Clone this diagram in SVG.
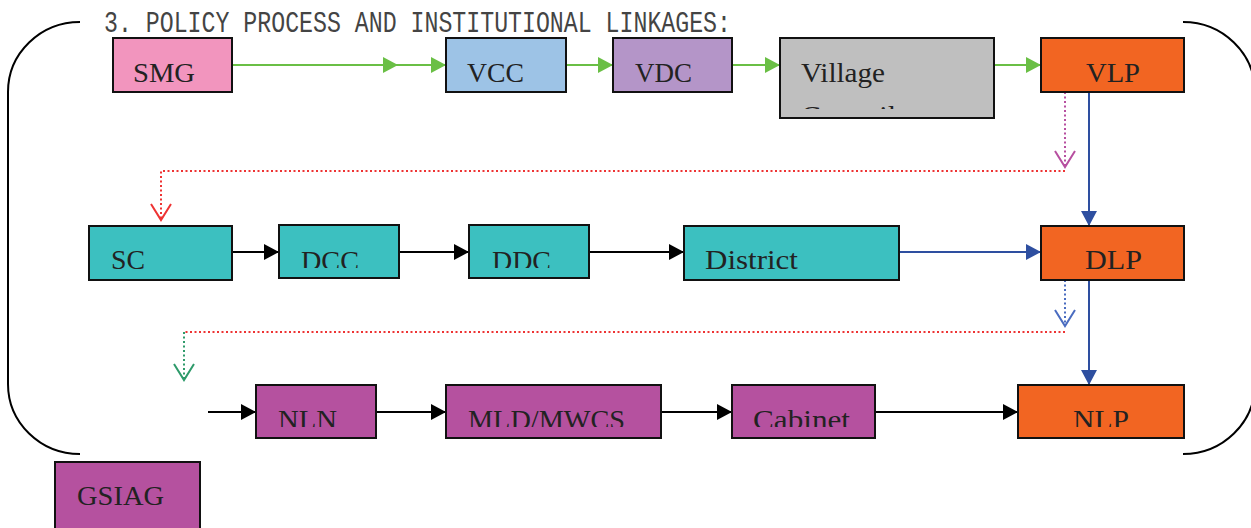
<svg xmlns="http://www.w3.org/2000/svg" width="1251" height="528" viewBox="0 0 1251 528">
  <style>
    .box { stroke: #111; stroke-width: 2; }
    .lbl { font-family: "Liberation Serif", "DejaVu Serif", serif; font-size: 28px; fill: #222; }
    .title { font-family: "Liberation Mono", "DejaVu Sans Mono", monospace; font-size: 29px; fill: #444; }
    .brace { fill: none; stroke: #000; stroke-width: 2; }
    .green { stroke: #6abf45; stroke-width: 2; fill: none; }
    .black { stroke: #000; stroke-width: 2; fill: none; }
    .blue { stroke: #2e4fa0; stroke-width: 2; fill: none; }
    .dot { stroke-width: 2; fill: none; stroke-dasharray: 2 2.5; }
  </style>
  <defs>
    <marker id="ahGreen" markerUnits="userSpaceOnUse" markerWidth="16" markerHeight="16" refX="15" refY="8" orient="auto">
      <path d="M0,0 L15,8 L0,16 z" fill="#6abf45"/>
    </marker>
    <marker id="ahBlack" markerUnits="userSpaceOnUse" markerWidth="16" markerHeight="16" refX="15" refY="8" orient="auto">
      <path d="M0,0 L15,8 L0,16 z" fill="#000"/>
    </marker>
    <marker id="ahBlue" markerUnits="userSpaceOnUse" markerWidth="16" markerHeight="16" refX="15" refY="8" orient="auto">
      <path d="M0,0 L15,8 L0,16 z" fill="#2e4fa0"/>
    </marker>
    <marker id="vMagenta" markerUnits="userSpaceOnUse" markerWidth="20" markerHeight="24" refX="17" refY="11" orient="auto">
      <path d="M1,1 L17,11 L1,21" fill="none" stroke="#b74fa0" stroke-width="2"/>
    </marker>
    <marker id="vRed" markerUnits="userSpaceOnUse" markerWidth="20" markerHeight="24" refX="17" refY="11" orient="auto">
      <path d="M1,1 L17,11 L1,21" fill="none" stroke="#ee3333" stroke-width="2"/>
    </marker>
    <marker id="vBlue" markerUnits="userSpaceOnUse" markerWidth="20" markerHeight="24" refX="17" refY="11" orient="auto">
      <path d="M1,1 L17,11 L1,21" fill="none" stroke="#4a6cc0" stroke-width="2"/>
    </marker>
    <marker id="vGreen" markerUnits="userSpaceOnUse" markerWidth="20" markerHeight="24" refX="17" refY="11" orient="auto">
      <path d="M1,1 L17,11 L1,21" fill="none" stroke="#2e9a6a" stroke-width="2"/>
    </marker>
    <clipPath id="clipVillage"><rect x="780" y="38" width="214" height="71"/></clipPath>
    <clipPath id="clipRow2"><rect x="0" y="200" width="1251" height="68"/></clipPath>
    <clipPath id="clipRow3"><rect x="0" y="360" width="1251" height="67"/></clipPath>
  </defs>

  <rect width="1251" height="528" fill="#fff"/>

  <!-- heading -->
  <text class="title" x="104" y="32" textLength="627" lengthAdjust="spacingAndGlyphs">3. POLICY PROCESS AND INSTITUTIONAL LINKAGES:</text>

  <!-- enclosing braces -->
  <path class="brace" d="M80,22 A72,70 0 0 0 8,92 L8,384 A72,70 0 0 0 80,454"/>
  <path class="brace" d="M1183,22 A72,70 0 0 1 1255,92 L1255,384 A72,70 0 0 1 1183,454"/>

  <!-- connectors -->
  <g id="connectors">
    <line class="green" x1="232" y1="65" x2="398" y2="65" marker-end="url(#ahGreen)"/>
    <line class="green" x1="398" y1="65" x2="446" y2="65" marker-end="url(#ahGreen)"/>
    <line class="green" x1="566" y1="65" x2="613" y2="65" marker-end="url(#ahGreen)"/>
    <line class="green" x1="732" y1="65" x2="780" y2="65" marker-end="url(#ahGreen)"/>
    <line class="green" x1="994" y1="65" x2="1041" y2="65" marker-end="url(#ahGreen)"/>

    <line class="blue" x1="1089" y1="92" x2="1089" y2="226" marker-end="url(#ahBlue)"/>
    <line class="dot" stroke="#b74fa0" x1="1065" y1="92" x2="1065" y2="167" marker-end="url(#vMagenta)"/>
    <path class="dot" stroke="#ee3333" d="M1065,171 H161 V220" marker-end="url(#vRed)"/>

    <line class="black" x1="232" y1="252" x2="279" y2="252" marker-end="url(#ahBlack)"/>
    <line class="black" x1="399" y1="252" x2="469" y2="252" marker-end="url(#ahBlack)"/>
    <line class="black" x1="589" y1="252" x2="684" y2="252" marker-end="url(#ahBlack)"/>
    <line class="blue" x1="899" y1="252" x2="1041" y2="252" marker-end="url(#ahBlue)"/>

    <line class="blue" x1="1089" y1="280" x2="1089" y2="385" marker-end="url(#ahBlue)"/>
    <line class="dot" stroke="#4a6cc0" x1="1065" y1="280" x2="1065" y2="326" marker-end="url(#vBlue)"/>
    <path class="dot" stroke="#ee3333" d="M1065,332 H184"/>
    <line class="dot" stroke="#2e9a6a" x1="184" y1="332" x2="184" y2="380" marker-end="url(#vGreen)"/>

    <line class="black" x1="208" y1="412" x2="256" y2="412" marker-end="url(#ahBlack)"/>
    <line class="black" x1="376" y1="412" x2="446" y2="412" marker-end="url(#ahBlack)"/>
    <line class="black" x1="661" y1="412" x2="732" y2="412" marker-end="url(#ahBlack)"/>
    <line class="black" x1="875" y1="412" x2="1018" y2="412" marker-end="url(#ahBlack)"/>
  </g>

  <!-- village level -->
  <g id="smg">
    <rect class="box" x="113" y="38" width="119" height="54" fill="#f295be"/>
    <text class="lbl" x="133" y="82" textLength="62" lengthAdjust="spacingAndGlyphs">SMG</text>
  </g>
  <g id="vcc">
    <rect class="box" x="446" y="38" width="120" height="54" fill="#9dc3e6"/>
    <text class="lbl" x="467" y="82" textLength="57" lengthAdjust="spacingAndGlyphs">VCC</text>
  </g>
  <g id="vdc">
    <rect class="box" x="613" y="38" width="119" height="54" fill="#b495c8"/>
    <text class="lbl" x="635" y="82" textLength="57" lengthAdjust="spacingAndGlyphs">VDC</text>
  </g>
  <g id="village-council">
    <rect class="box" x="780" y="38" width="214" height="80" fill="#bfbfbf"/>
    <text class="lbl" x="801" y="82" textLength="84" lengthAdjust="spacingAndGlyphs">Village</text>
    <text class="lbl" x="801" y="125" textLength="95" lengthAdjust="spacingAndGlyphs" clip-path="url(#clipVillage)">Council</text>
  </g>
  <g id="vlp">
    <rect class="box" x="1041" y="38" width="143" height="54" fill="#f26522"/>
    <text class="lbl" x="1086" y="82" textLength="54" lengthAdjust="spacingAndGlyphs">VLP</text>
  </g>

  <!-- district level -->
  <g id="sc">
    <rect class="box" x="89" y="226" width="143" height="54" fill="#3cc0c0"/>
    <text class="lbl" x="111" y="269" textLength="34" lengthAdjust="spacingAndGlyphs">SC</text>
  </g>
  <g id="dcc">
    <rect class="box" x="279" y="225" width="120" height="53" fill="#3cc0c0"/>
    <text class="lbl" x="301" y="269.5" textLength="58" lengthAdjust="spacingAndGlyphs" clip-path="url(#clipRow2)">DCC</text>
  </g>
  <g id="ddc">
    <rect class="box" x="469" y="225" width="120" height="53" fill="#3cc0c0"/>
    <text class="lbl" x="492" y="269.5" textLength="59" lengthAdjust="spacingAndGlyphs" clip-path="url(#clipRow2)">DDC</text>
  </g>
  <g id="district">
    <rect class="box" x="684" y="226" width="215" height="54" fill="#3cc0c0"/>
    <text class="lbl" x="705" y="269" textLength="93" lengthAdjust="spacingAndGlyphs">District</text>
  </g>
  <g id="dlp">
    <rect class="box" x="1041" y="226" width="143" height="54" fill="#f26522"/>
    <text class="lbl" x="1085" y="269" textLength="57" lengthAdjust="spacingAndGlyphs">DLP</text>
  </g>

  <!-- national level -->
  <g id="nln">
    <rect class="box" x="256" y="385" width="120" height="53" fill="#b5519f"/>
    <text class="lbl" x="278" y="428.5" textLength="59" lengthAdjust="spacingAndGlyphs" clip-path="url(#clipRow3)">NLN</text>
  </g>
  <g id="mld-mwcs">
    <rect class="box" x="446" y="385" width="215" height="53" fill="#b5519f"/>
    <text class="lbl" x="468" y="428.5" textLength="157" lengthAdjust="spacingAndGlyphs" clip-path="url(#clipRow3)">MLD/MWCS</text>
  </g>
  <g id="cabinet">
    <rect class="box" x="732" y="385" width="143" height="53" fill="#b5519f"/>
    <text class="lbl" x="753" y="428.5" textLength="97" lengthAdjust="spacingAndGlyphs" clip-path="url(#clipRow3)">Cabinet</text>
  </g>
  <g id="nlp">
    <rect class="box" x="1018" y="385" width="166" height="53" fill="#f26522"/>
    <text class="lbl" x="1073" y="428.5" textLength="56" lengthAdjust="spacingAndGlyphs" clip-path="url(#clipRow3)">NLP</text>
  </g>
  <g id="gsiag">
    <rect class="box" x="55" y="462" width="145" height="80" fill="#b5519f"/>
    <text class="lbl" x="77" y="505" textLength="87" lengthAdjust="spacingAndGlyphs">GSIAG</text>
  </g>
</svg>
